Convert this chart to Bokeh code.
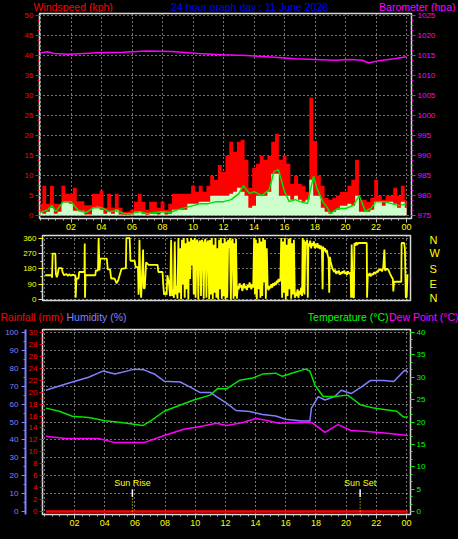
from bokeh.plotting import figure
from bokeh.models import Range1d, LinearAxis, FixedTicker, Label, ColumnDataSource
from bokeh.layouts import column
from bokeh.embed import file_html
from bokeh.resources import INLINE

FONT = "Liberation Sans"

# ---------------- data ----------------
hour_ticks = [2, 4, 6, 8, 10, 12, 14, 16, 18, 20, 22, 24]
hour_labels = ["02", "04", "06", "08", "10", "12", "14", "16", "18", "20", "22", "00"]
grid_hours = [0, 2, 4, 6, 8, 10, 12, 14, 16, 18, 20, 22, 24]

title_text = "24 hour graph day : 11 June 2026"

# wind speed (kph), one sample every 15 minutes from 00:00
wind_interval_h = 0.25
gust_kph = [3, 7.5, 3, 7.5, 3, 3, 7.5, 5.5,
            5.5, 7, 3.6, 3.6, 2.6, 2.6, 5.5, 5.5,
            6.3, 2, 5.5, 2, 5.5, 2, 1, 1,
            1.5, 3.5, 5.5, 3.5, 1.5, 3.5, 3.5, 2,
            3.5, 1.5, 3, 5.5, 5.5, 5.5, 5.5, 5.5,
            7.5, 6, 7.5, 6, 7.5, 10, 9, 12.7,
            11, 15, 18.5, 16, 18.5, 19, 14, 7,
            12, 13, 15, 14, 15, 18.5, 20.5, 14,
            15, 13, 8, 10, 8, 7.5, 6, 29.5,
            18.7, 10, 7.5, 4.5, 4, 4.5, 5, 6,
            6, 7.5, 9, 14, 4, 4, 3.5, 4.5,
            9, 5, 4, 5, 5, 7, 5, 7.5,
            4]
avg_kph = [1, 0.5, 1, 2, 0.5, 1, 3.3, 3.3,
           3, 1.2, 1.2, 1.2, 0.3, 0.3, 2, 2.2,
           1.5, 0.5, 1, 0.5, 1.5, 0.3, 0.2, 0.2,
           0.3, 1, 1, 0.5, 0.2, 0.5, 0.5, 0.3,
           1, 0.3, 0.5, 1.5, 1.5, 1.5, 1.5, 3,
           3, 3, 3.5, 3.5, 3.5, 5, 5, 5,
           5, 5, 5.5, 6, 7, 6, 5, 2,
           2.5, 5, 5, 5, 6, 10.5, 10.5, 5,
           5, 5, 4, 5, 4, 3.5, 4, 9,
           5, 5, 2, 1, 0.5, 1, 1.5, 2.5,
           2.5, 3, 2.5, 5, 1, 1, 1, 1.5,
           3.5, 3.5, 2.5, 3.5, 3.5, 3, 2, 3.5,
           2]

avg_line_hours = [0, 0.5, 0.75, 1.0, 1.5, 2.0, 2.5, 3.0, 3.5, 4.0, 4.5, 5.0, 5.5, 6.0,
                  6.5, 7.0, 7.5, 8.0, 8.5, 9.0, 9.5, 10.0, 10.5, 11.0, 11.5, 12.0, 12.5,
                  13.0, 13.3, 13.7, 14.0, 14.5, 15.0, 15.3, 15.6, 16.0, 16.3, 16.7, 17.0,
                  17.5, 17.9, 18.1, 18.5, 18.8, 19.0, 19.5, 20.0, 20.5, 20.9, 21.3, 21.7,
                  22.0, 22.5, 23.0, 23.5, 24.0]
avg_line_kph = [0.8, 1.5, 2.5, 1.0, 3.5, 3.5, 1.2, 0.8, 2.0, 2.0, 1.0, 1.2, 0.5, 0.5,
                1.0, 0.5, 0.8, 1.0, 0.8, 1.5, 2.0, 2.5, 3.0, 3.0, 3.5, 3.5, 4.0,
                5.5, 7.5, 5.5, 6.0, 5.0, 6.5, 11.0, 11.5, 6.0, 3.5, 4.0, 3.5,
                3.0, 9.9, 7.0, 3.5, 2.0, 0.5, 1.8, 1.8, 2.5, 5.0, 1.0, 2.0,
                3.5, 3.5, 3.0, 2.5, 3.0]

baro_hours = [0, 0.45, 0.9, 1.87, 2.84, 3.8, 5.4, 7.0, 8.6, 10.3, 11.9, 13.5, 15.1,
              16.7, 18.0, 19.3, 20.3, 21.1, 21.5, 22.2, 23.2, 24.0]
baro_hpa = [1015.7, 1016.0, 1015.6, 1015.4, 1015.6, 1015.8, 1015.9, 1016.2, 1016.1,
            1015.6, 1015.3, 1015.1, 1014.7, 1014.3, 1014.1, 1013.9, 1014.1, 1013.9,
            1013.2, 1013.8, 1014.3, 1014.8]

# wind direction (degrees)
dir_hours = [
    0.05, 0.48, 0.50, 0.54, 0.72, 0.76, 0.82, 0.87, 0.95, 1.15, 1.20, 1.30, 1.45, 1.55,
    1.65, 1.75, 1.85, 2.05, 2.07, 2.12, 2.26, 2.30, 2.65, 2.67, 2.69, 2.72, 3.37, 3.41,
    3.55, 3.59, 3.65, 3.70, 4.13, 4.20, 4.35, 4.42, 4.63, 4.70, 4.78, 4.89, 5.11, 5.40,
    5.43, 5.65, 5.70, 5.98, 6.05, 6.20, 6.24, 6.30, 6.35, 6.41, 6.54, 6.58, 6.65, 6.74,
    6.91, 7.50, 7.55, 7.83, 7.87, 7.93, 8.00, 8.10, 8.15, 8.25, 8.33,
    8.40, 8.46, 8.52, 8.58, 8.64, 8.70, 8.76, 8.82, 8.88, 8.94,
    9.00, 9.06, 9.12, 9.18, 9.24, 9.30, 9.36, 9.42, 9.48, 9.54,
    9.60, 9.66, 9.72, 9.78, 9.84, 9.90, 9.96, 10.02, 10.08, 10.14,
    10.20, 10.26, 10.32, 10.38, 10.44, 10.50, 10.56, 10.62, 10.68, 10.74,
    10.80, 10.86, 10.92, 10.98, 11.04, 11.10, 11.16, 11.22, 11.28, 11.34,
    11.40, 11.46, 11.52, 11.58, 11.64, 11.70, 11.76, 11.82, 11.88, 11.94,
    12.00, 12.06, 12.12, 12.18, 12.24, 12.30, 12.36, 12.42, 12.48, 12.54,
    12.60, 12.66,
    12.70, 12.76, 12.82, 12.88, 12.94, 13.00, 13.06, 13.12, 13.18, 13.24,
    13.30, 13.36, 13.42, 13.48, 13.54, 13.60, 13.66, 13.72, 13.78, 13.84,
    13.90, 13.96, 14.02, 14.08, 14.14, 14.20, 14.26, 14.32, 14.38, 14.44,
    14.50, 14.56, 14.62, 14.68, 14.74,
    14.80, 14.86, 14.92, 14.98, 15.04, 15.10, 15.16, 15.22, 15.28, 15.34,
    15.40, 15.46, 15.52, 15.58, 15.64,
    15.70, 15.76, 15.82, 15.88, 15.94, 16.00, 16.06, 16.12, 16.18, 16.24,
    16.30, 16.36, 16.42, 16.48, 16.54, 16.60,
    16.66, 16.72, 16.78, 16.84, 16.90, 16.96, 17.02, 17.08, 17.12, 17.16, 17.20, 17.24,
    17.30, 17.36, 17.42, 17.46, 17.50, 17.56, 17.62, 17.68, 17.74, 17.80,
    17.86, 17.92, 17.98, 18.04, 18.10, 18.16, 18.22, 18.28, 18.34, 18.40,
    18.44, 18.48, 18.54, 18.60, 18.66, 18.72, 18.78, 18.84, 18.88, 18.92,
    18.98, 19.04, 19.10,
    19.16, 19.22, 19.28, 19.34, 19.40, 19.46, 19.52, 19.58, 19.64, 19.70,
    19.76, 19.82, 19.88, 19.94, 20.00, 20.06, 20.12, 20.18, 20.24, 20.30,
    20.33, 20.37, 20.45, 20.52, 20.55, 20.62, 20.68, 20.74, 20.80, 20.85, 21.37, 21.39,
    21.44, 21.50, 21.56, 21.62, 21.70, 21.78, 21.86, 21.94, 22.02, 22.10,
    22.15, 22.22, 22.30, 22.38, 22.46, 22.54, 22.58, 22.70, 22.80, 22.91,
    23.00, 23.10, 23.13, 23.18, 23.24, 23.66,
    23.68, 23.85, 23.90, 23.96, 24.02, 24.07]
dir_deg = [
    142, 142, 128, 269, 269, 150, 130, 145, 184, 184, 160, 142, 150, 138,
    148, 140, 145, 142, 10, 123, 123, 161, 161, 328, 10, 142, 142, 170,
    170, 360, 170, 240, 240, 176, 176, 123, 123, 113, 95, 113, 180, 184,
    360, 360, 227, 227, 190, 190, 28, 350, 100, 10, 293, 66, 66, 218,
    203, 203, 161, 161, 95, 28, 40, 28, 142, 100, 20,
    350, 20, 60, 10, 340, 30, 80, 5, 360, 40,
    300, 0, 350, 90, 360, 10, 330, 60, 360, 0,
    340, 120, 360, 200, 350, 30, 360, 10, 340, 350,
    0, 330, 345, 20, 350, 330, 5, 340, 355, 10,
    330, 345, 0, 350, 30, 360, 0, 320, 40, 360,
    10, 300, 0, 350, 60, 360, 5, 330, 20, 360,
    0, 340, 10, 350, 300, 360, 0, 340, 355, 5,
    330, 20,
    355, 5, 80, 60, 95, 70, 85, 50, 75, 95,
    65, 80, 55, 85, 70, 100, 75, 60, 90, 70,
    360, 30, 350, 0, 330, 60, 360, 10, 340, 20,
    360, 100, 350, 5, 300,
    70, 55, 80, 65, 90, 70, 95, 80, 100, 85,
    110, 95, 120, 105, 115,
    360, 10, 340, 40, 360, 0, 320, 20, 355, 60,
    360, 5, 330, 30, 350, 10,
    40, 20, 60, 10, 50, 30, 70, 20, 360, 40, 350, 30,
    340, 320, 350, 10, 330, 310, 345, 300, 330, 315,
    340, 300, 325, 305, 330, 300, 320, 295, 315, 290,
    60, 310, 285, 300, 275, 290, 260, 240, 40, 250,
    220, 200, 180,
    170, 160, 175, 150, 165, 155, 170, 145, 160, 150,
    165, 155, 170, 150, 160, 145, 165, 155, 150, 160,
    10, 322, 15, 10, 330, 315, 335, 320, 330, 331, 331, 10,
    150, 140, 155, 135, 150, 145, 160, 150, 165, 160,
    175, 170, 180, 165, 185, 293, 170, 180, 175, 152,
    135, 120, 47, 104, 104, 104,
    331, 331, 293, 10, 15, 148]
dir_ticks = [0, 90, 180, 270, 360]
dir_letters = ["N", "E", "S", "W", "N"]

hum_hours = [0.1, 0.76, 1.85, 2.93, 3.9, 4.68, 5.98, 6.6, 7.28, 7.94, 9.0, 9.67, 10.3,
             11.0, 11.4, 12.07, 12.7, 13.6, 14.46, 15.33, 16.0, 17.07, 17.6, 17.7,
             18.15, 18.6, 19.24, 19.68, 20.33, 21.0, 21.6, 22.5, 23.16, 23.9, 24.1]
hum_pct = [67.7, 69.5, 72.3, 75, 78.5, 76.8, 79.5, 79.1, 76.8, 72.8, 72.3, 69.5, 66.5,
           66.5, 64.2, 60.5, 56.4, 55.9, 54.2, 53.3, 51.5, 50.6, 50.6, 57.8,
           64.2, 62.3, 64.2, 67.7, 65.9, 69.5, 73.1, 73.1, 72.6, 79, 77.7]

temp_hours = [0.1, 0.98, 1.85, 2.93, 4.02, 5.1, 6.52, 7.07, 7.94, 8.8, 9.9, 10.98, 11.5,
              12.07, 12.94, 13.8, 14.46, 15.33, 15.77, 16.4, 17.29, 17.6, 17.94, 18.48,
              19.24, 20.1, 20.98, 21.85, 22.5, 23.37, 23.8, 24.1]
temp_c = [23.1, 22.4, 21.3, 21.0, 20.3, 19.9, 19.2, 20.3, 22.4, 23.5, 24.9, 26.0, 27.5,
          27.4, 29.3, 29.8, 30.7, 30.9, 30.2, 30.9, 31.8, 31.4, 28.2, 25.7,
          25.7, 26.0, 23.8, 23.1, 22.8, 22.4, 21.1, 21.1]

dew_hours = [0.1, 1.41, 3.59, 4.68, 6.6, 7.94, 9.24, 10.33, 11.41, 12.07, 13.16, 14.02,
             14.68, 15.55, 16.85, 17.72, 18.6, 19.46, 20.33, 21.41, 22.72, 24.1]
dew_c = [16.8, 16.3, 16.3, 15.4, 15.4, 17.0, 18.4, 19.0, 19.7, 19.2, 19.9, 20.8,
         20.4, 19.7, 19.9, 19.9, 17.7, 19.4, 18.1, 17.9, 17.5, 17.0]

rain_hours = [0.1, 24.1]
rain_mm = [0, 0]

sunrise_hour = 5.83
sunset_hour = 20.93

# ---------------- colours ----------------
RED = "#FF0000"
MAGENTA = "#FF00FF"
YELLOW = "#FFFF00"
BLUE = "#0000FF"
HUMBLUE = "#8080FF"
GREEN = "#00FF00"
MINT = "#CCFFCC"
FRAME = "#D8D8D8"
W = 458
BLACK_BG = {"background-color": "black"}


def base_fig(h, xr, yr, left, right, top, bottom):
    p = figure(width=W, height=h, x_range=xr, y_range=yr, output_backend="svg",
               toolbar_location=None, min_border_left=left, min_border_right=right,
               min_border_top=top, min_border_bottom=bottom, styles=BLACK_BG,
               frame_align=False)
    p.background_fill_color = "black"
    p.border_fill_color = "black"
    p.outline_line_color = FRAME
    p.outline_line_width = 1.5
    p.grid.grid_line_color = "#E8E8E8"
    p.grid.grid_line_dash = "1 3"
    p.grid.grid_line_width = 1
    return p


def header_fig(h):
    p = figure(width=W, height=h, x_range=Range1d(0, W), y_range=Range1d(0, h),
               output_backend="svg", toolbar_location=None, min_border=0,
               min_border_left=0, min_border_right=0, min_border_top=0, min_border_bottom=0,
               x_axis_location=None, y_axis_location=None, styles=BLACK_BG,
               frame_align=False)
    p.background_fill_color = "black"
    p.border_fill_color = "black"
    p.outline_line_color = None
    p.grid.visible = False
    return p


def style_axis(ax, color, size, tick_color=None, out=4, minor_out=2, standoff=2):
    tc = tick_color or color
    ax.axis_line_color = None
    ax.major_label_text_color = color
    ax.major_label_text_font = FONT
    ax.major_label_text_font_size = size
    ax.major_tick_line_color = tc
    ax.minor_tick_line_color = tc
    ax.major_tick_in = 0
    ax.major_tick_out = out
    ax.minor_tick_in = 0
    ax.minor_tick_out = minor_out
    ax.major_label_standoff = standoff


def hour_axis(ax):
    ax.ticker = FixedTicker(ticks=hour_ticks, minor_ticks=[k * 0.5 for k in range(49)])
    ax.major_label_overrides = dict(zip(hour_ticks, hour_labels))
    style_axis(ax, YELLOW, "9px", tick_color="#C0C0C0", out=4, minor_out=2, standoff=1)


def label(p, x, y, text, color, align, size="10.5px", baseline="middle"):
    p.add_layout(Label(x=x, y=y, text=text, text_color=color, text_font=FONT,
                       text_font_size=size, text_align=align, text_baseline=baseline))


# ---------------- header with the three top titles ----------------
h1 = header_fig(12)
label(h1, 33, 6, "Windspeed (kph)", RED, "left")
label(h1, 249, 6, title_text, BLUE, "center")
label(h1, 455, 6, "Barometer (hpa)", MAGENTA, "right")

# ---------------- top: wind speed + barometer ----------------
p1 = base_fig(221, Range1d(-0.065, 24.32), Range1d(-0.72, 50.6), 39, 47, 1, 15)
p1.extra_y_ranges = {"baro": Range1d(974.28, 1025.6)}
p1.xgrid.ticker = FixedTicker(ticks=grid_hours)
p1.ygrid.ticker = FixedTicker(ticks=[0, 5, 10, 15, 20, 25, 30, 35, 40, 45, 50])

p1.yaxis.ticker = FixedTicker(ticks=[0, 5, 10, 15, 20, 25, 30, 35, 40, 45, 50],
                              minor_ticks=[k * 1.25 for k in range(41)])
style_axis(p1.yaxis[0], RED, "8px")
hour_axis(p1.xaxis[0])

baro_axis = LinearAxis(y_range_name="baro",
                       ticker=FixedTicker(ticks=[975, 980, 985, 990, 995, 1000, 1005, 1010,
                                                 1015, 1020, 1025],
                                          minor_ticks=[975 + k * 1.25 for k in range(41)]))
style_axis(baro_axis, MAGENTA, "8px")
p1.add_layout(baro_axis, "right")

wind_hours = [i * wind_interval_h for i in range(len(gust_kph))]
wsrc = ColumnDataSource(dict(h=wind_hours, gust=gust_kph, avg=avg_kph))
p1.varea_step(x="h", y1=0, y2="gust", step_mode="center", source=wsrc, fill_color=RED)
p1.varea_step(x="h", y1=0, y2="avg", step_mode="center", source=wsrc, fill_color=MINT)
p1.line(avg_line_hours, avg_line_kph, line_color="#00E000", line_width=1.5)
p1.line(baro_hours, baro_hpa, y_range_name="baro", line_color=MAGENTA, line_width=1.5)

# ---------------- middle: wind direction ----------------
p2 = base_fig(70, Range1d(-0.13, 24.27), Range1d(-5.7, 374.8), 42, 48, 2, 3)
p2.xaxis.visible = False
p2.xgrid.ticker = FixedTicker(ticks=grid_hours)
p2.ygrid.ticker = FixedTicker(ticks=dir_ticks)
p2.yaxis.ticker = FixedTicker(ticks=dir_ticks, minor_ticks=[0, 45, 90, 135, 180, 225, 270, 315, 360])
style_axis(p2.yaxis[0], YELLOW, "8px")

compass = LinearAxis(ticker=FixedTicker(ticks=dir_ticks, minor_ticks=[]))
compass.major_label_overrides = dict(zip(dir_ticks, dir_letters))
style_axis(compass, YELLOW, "11px", out=0, minor_out=0, standoff=19)
compass.major_tick_line_color = None
p2.add_layout(compass, "right")

p2.line(dir_hours, dir_deg, line_color=YELLOW, line_width=1.8)

# ---------------- header with the lower titles ----------------
h2 = header_fig(21)
label(h2, 0, 8, "Rainfall (mm)", RED, "left")
label(h2, 66, 8, "Humidity (%)", HUMBLUE, "left")
label(h2, 388, 8, "Temperature (\u00b0C)", GREEN, "right")
label(h2, 388.5, 8, "Dew Point (\u00b0C)", MAGENTA, "left")

# ---------------- bottom: rain / humidity / temperature ----------------
p3 = base_fig(215, Range1d(-0.13, 24.27), Range1d(-0.49, 30.49), 42, 48, 5, 25)
p3.extra_y_ranges = {"hum": Range1d(-1.62, 101.62), "temp": Range1d(-0.65, 40.65)}
p3.xgrid.ticker = FixedTicker(ticks=grid_hours)
p3.ygrid.y_range_name = "hum"
p3.ygrid.ticker = FixedTicker(ticks=[10, 20, 30, 40, 50, 60, 70, 80, 90, 100])

p3.yaxis.ticker = FixedTicker(ticks=list(range(0, 31, 2)), minor_ticks=list(range(0, 31)))
style_axis(p3.yaxis[0], RED, "8px", out=3, minor_out=2)
hour_axis(p3.xaxis[0])

hum_axis = LinearAxis(y_range_name="hum",
                      ticker=FixedTicker(ticks=list(range(0, 101, 10)),
                                         minor_ticks=list(range(0, 101, 5))))
style_axis(hum_axis, HUMBLUE, "8px", out=4, minor_out=2, standoff=3)
hum_axis.axis_line_color = HUMBLUE
hum_axis.axis_line_width = 2
p3.add_layout(hum_axis, "left")

temp_axis = LinearAxis(y_range_name="temp",
                       ticker=FixedTicker(ticks=list(range(0, 41, 5)),
                                          minor_ticks=[k * 5 / 3 for k in range(25)]))
style_axis(temp_axis, GREEN, "8px", out=4, minor_out=2)
p3.add_layout(temp_axis, "right")

p3.line(hum_hours, hum_pct, y_range_name="hum", line_color=HUMBLUE, line_width=1.5)
p3.line(temp_hours, temp_c, y_range_name="temp", line_color="#00E600", line_width=1.5)
p3.line(dew_hours, dew_c, y_range_name="temp", line_color=MAGENTA, line_width=1.5)
p3.line(rain_hours, rain_mm, line_color=RED, line_width=2.5)

sun_hours = [sunrise_hour, sunset_hour]
p3.segment(x0=sun_hours, x1=sun_hours, y0=[-0.49, -0.49], y1=[2.44, 2.44],
           line_color=YELLOW, line_width=1, line_dash="1 2")
p3.segment(x0=sun_hours, x1=sun_hours, y0=[2.44, 2.44], y1=[3.73, 3.73],
           line_color="white", line_width=1.5)
label(p3, sunrise_hour, 4.78, "Sun Rise", YELLOW, "center", size="9px")
label(p3, sunset_hour, 4.78, "Sun Set", YELLOW, "center", size="9px")

layout = column(h1, p1, p2, h2, p3, styles=BLACK_BG)
open("out.html", "w").write(file_html(layout, INLINE))
